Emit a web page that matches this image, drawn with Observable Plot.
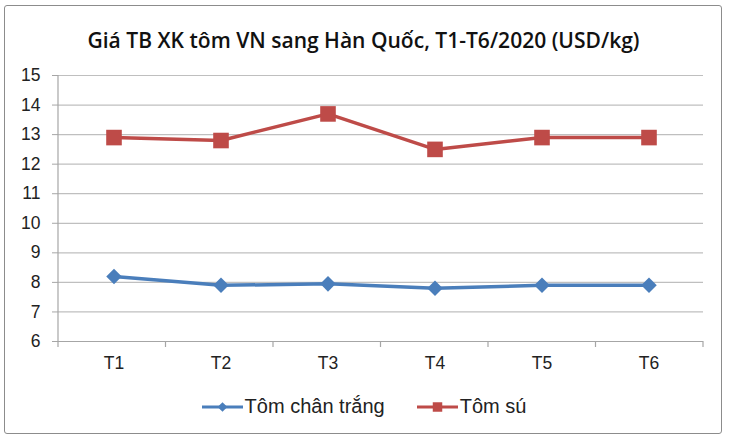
<!DOCTYPE html>
<html><head><meta charset="utf-8">
<script src="https://cdn.jsdelivr.net/npm/d3@7"></script>
<script src="https://cdn.jsdelivr.net/npm/@observablehq/plot@0.6"></script>
<style>
body{margin:0;background:#fff;width:730px;height:443px;overflow:hidden;position:relative;}
#frame{position:absolute;left:4px;top:5px;width:716px;height:427px;border:1.5px solid #8c8c8c;border-radius:3px;}
#title{position:absolute;left:4px;top:26px;width:719px;text-align:center;font-family:"Open Sans";font-weight:600;font-size:18px;color:#111;white-space:nowrap;}
#chart{position:absolute;left:0;top:60px;}
#chart svg text{font-size:17.5px !important;font-family:"Liberation Sans",Arial,sans-serif !important;}
#legend{position:absolute;left:0;top:395px;width:728px;display:flex;justify-content:center;align-items:center;font-family:"Liberation Sans",Arial,sans-serif;font-size:20px;color:#222;}
.item{display:flex;align-items:center;margin:0 16px;}
.item svg{margin-right:2px;}
</style></head>
<body>
<div id="frame"></div>
<div id="title">Giá TB XK tôm VN sang Hàn Quốc, T1-T6/2020 (USD/kg)</div>
<div id="chart"></div>
<div id="legend"></div>
<script>
const months = ["T1","T2","T3","T4","T5","T6"];
const seriesNames = ["Tôm chân trắng","Tôm sú"];
const tomChanTrang = [8.2, 7.9, 7.95, 7.8, 7.9, 7.9];
const tomSu = [12.9, 12.8, 13.7, 12.5, 12.9, 12.9];
const yTicks = [6,7,8,9,10,11,12,13,14,15];
const colors = ["#4a7ebb","#be4b48"];
const symbols = ["diamond2","square"];

const data = [
  ...months.map((m,i)=>({month:m, value:tomChanTrang[i], series:seriesNames[0]})),
  ...months.map((m,i)=>({month:m, value:tomSu[i], series:seriesNames[1]}))
];

const W = 730, H = 320, mL = 58, mR = 27, mT = 15, mB = 39;

const axisDecor = (index, scales, values, dims) => {
  const g = d3.create("svg:g");
  const x0 = dims.marginLeft, x1 = dims.width - dims.marginRight;
  const yb = dims.height - dims.marginBottom, yt = dims.marginTop;
  g.append("line").attr("x1",x0).attr("x2",x0).attr("y1",yt).attr("y2",yb+6)
    .attr("stroke","#a6a6a6").attr("stroke-width",1.2);
  const bw = (x1 - x0) / months.length;
  for (let i = 1; i <= months.length; i++) {
    const x = x0 + i*bw;
    g.append("line").attr("x1",x).attr("x2",x).attr("y1",yb).attr("y2",yb+6)
      .attr("stroke","#a6a6a6").attr("stroke-width",1.2);
  }
  return g.node();
};

const chart = Plot.plot({
  width: W, height: H,
  marginLeft: mL, marginRight: mR, marginTop: mT, marginBottom: mB,
  style: {fontFamily: "'Liberation Sans', Arial, sans-serif", fontSize: "17.5px", color: "#222", background: "transparent"},
  x: {type: "band", domain: months, padding: 0},
  y: {domain: [6, 15]},
  color: {domain: seriesNames, range: colors},
  symbol: {domain: seriesNames, range: symbols},
  marks: [
    Plot.gridY(yTicks.slice(1), {stroke: "#bfbfbf", strokeOpacity: 1, strokeWidth: 1.2}),
    Plot.ruleY([6], {stroke: "#a6a6a6", strokeWidth: 1.2}),
    axisDecor,
    Plot.axisY({ticks: yTicks, tickSize: 6, tickPadding: 12, stroke: "#a6a6a6", label: null, tickFormat: d => d, fill: "#222"}),
    Plot.axisX({tickSize: 0, tickPadding: 15, label: null, fill: "#222"}),
    Plot.line(data, {x: "month", y: "value", z: "series", stroke: "series", strokeWidth: 3.5}),
    Plot.dot(data.filter(d=>d.series===seriesNames[0]), {x: "month", y: "value", symbol: "series", fill: "series", r: 7}),
    Plot.dot(data.filter(d=>d.series===seriesNames[1]), {x: "month", y: "value", symbol: "series", fill: "series", r: 8.8})
  ]
});
document.getElementById("chart").appendChild(chart);

// fit title width to reference (~552px)
const t = document.getElementById("title");
const span = document.createElement("span"); span.textContent = t.textContent; t.textContent = ""; t.appendChild(span);
let fs = 18; t.style.fontSize = fs + "px";
for (let k = 0; k < 5; k++) { const w = span.getBoundingClientRect().width; fs = fs * 552 / w; t.style.fontSize = fs + "px"; }

// legend
const leg = document.getElementById("legend");
seriesNames.forEach((name, i) => {
  const item = document.createElement("div"); item.className = "item";
  const s = d3.create("svg").attr("width", 41).attr("height", 20);
  s.append("line").attr("x1",0).attr("x2",41).attr("y1",10).attr("y2",10).attr("stroke",colors[i]).attr("stroke-width",3);
  s.append("path").attr("transform","translate(20.5,10)")
    .attr("d", d3.symbol(i===0 ? d3.symbolDiamond2 : d3.symbolSquare, i===0 ? 60 : 90)())
    .attr("fill", colors[i]);
  item.appendChild(s.node());
  const lab = document.createElement("span"); lab.textContent = name;
  item.appendChild(lab);
  leg.appendChild(item);
});
</script>
</body></html>
